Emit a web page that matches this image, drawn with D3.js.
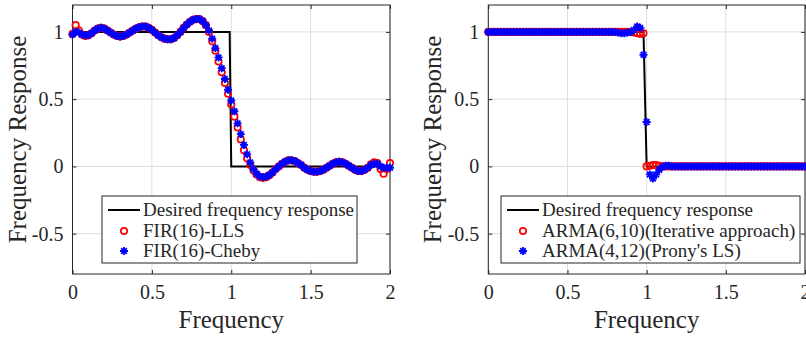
<!DOCTYPE html>
<html>
<head>
  <meta charset="utf-8">
  <title>Frequency response comparison</title>
  <script src="https://cdn.jsdelivr.net/npm/d3@7/dist/d3.min.js"></script>
  <style>
    body { margin: 0; background: #fff; }
    svg text { font-family: 'Liberation Serif', 'Times New Roman', serif; fill: #262626; }
  </style>
</head>
<body>
<svg id="chart" width="806" height="337"></svg>
<script>
// frequency grid (normalised, 0..2) the responses were sampled on
var freq = d3.range(101).map(i => i * 0.02);

var xTicks = [0, 0.5, 1, 1.5, 2];
var xTickLabels = ['0', '0.5', '1', '1.5', '2'];
var yTicks = [-0.5, 0, 0.5, 1];
var yTickLabels = ['-0.5', '0', '0.5', '1'];

// left panel: ideal lowpass and two FIR(16) designs
var desiredFreqL = [0, 0.99, 1, 2];
var desiredL = [1, 1, 0, 0];
var firLLS = [
  0.985, 1.05, 1.01, 0.98, 0.97, 0.975, 0.99, 1.01, 1.025, 1.03,
  1.025, 1.01, 0.995, 0.98, 0.97, 0.965, 0.97, 0.98, 0.995, 1.01,
  1.025, 1.035, 1.04, 1.04, 1.03, 1.015, 0.995, 0.975, 0.96, 0.95,
  0.945, 0.945, 0.955, 0.975, 1.0, 1.03, 1.055, 1.075, 1.09, 1.095,
  1.095, 1.08, 1.05, 1.0, 0.93, 0.86, 0.78, 0.70, 0.62, 0.54,
  0.46, 0.37, 0.29, 0.20, 0.12, 0.06, 0.01, -0.03, -0.06, -0.08,
  -0.085, -0.08, -0.065, -0.045, -0.02, 0.0, 0.02, 0.035, 0.045, 0.045,
  0.04, 0.025, 0.01, -0.01, -0.025, -0.035, -0.04, -0.04, -0.035, -0.025,
  -0.01, 0.005, 0.02, 0.03, 0.035, 0.03, 0.02, 0.005, -0.01, -0.025,
  -0.035, -0.035, -0.025, -0.01, 0.015, 0.03, 0.025, -0.02, -0.055, -0.02,
  0.025
];
var firCheby = [
  0.98, 1.0, 0.995, 0.98, 0.975, 0.975, 0.99, 1.01, 1.025, 1.03,
  1.025, 1.01, 0.995, 0.98, 0.97, 0.965, 0.97, 0.98, 0.995, 1.01,
  1.025, 1.035, 1.04, 1.04, 1.03, 1.015, 0.995, 0.975, 0.96, 0.95,
  0.945, 0.945, 0.955, 0.975, 1.0, 1.03, 1.055, 1.075, 1.09, 1.095,
  1.095, 1.08, 1.05, 1.01, 0.95, 0.88, 0.81, 0.73, 0.65, 0.57,
  0.49, 0.41, 0.32, 0.24, 0.16, 0.09, 0.03, -0.02, -0.055, -0.075,
  -0.08, -0.075, -0.065, -0.045, -0.02, 0.0, 0.02, 0.035, 0.045, 0.045,
  0.04, 0.025, 0.01, -0.01, -0.025, -0.035, -0.04, -0.04, -0.035, -0.025,
  -0.01, 0.005, 0.02, 0.03, 0.035, 0.03, 0.02, 0.005, -0.01, -0.025,
  -0.035, -0.035, -0.025, -0.01, 0.01, 0.02, 0.02, 0.0, -0.01, -0.01,
  -0.01
];

// right panel: ideal lowpass and two ARMA designs
var desiredFreqR = [0, 0.98, 1, 2];
var desiredR = [1, 1, 0, 0];
var armaIter = [
  1, 1, 1, 1, 1, 1, 1, 1, 1, 1,
  1, 1, 1, 1, 1, 1, 1, 1, 1, 1,
  1, 1, 1, 1, 1, 1, 1, 1, 1, 1,
  1, 1, 1, 1, 1, 1, 1, 1, 1, 1,
  1, 1, 1, 1, 1, 1, 0.995, 0.99, 0.985, 0.99,
  0.0, 0.005, 0.01, 0.01, 0.005, 0, 0, 0, 0, 0,
  0, 0, 0, 0, 0, 0, 0, 0, 0, 0,
  0, 0, 0, 0, 0, 0, 0, 0, 0, 0,
  0, 0, 0, 0, 0, 0, 0, 0, 0, 0,
  0, 0, 0, 0, 0, 0, 0, 0, 0, 0,
  0
];
var armaProny = [
  1, 1, 1, 1, 1, 1, 1, 1, 1, 1,
  1, 1, 1, 1, 1, 1, 1, 1, 1, 1,
  1, 1, 1, 1, 1, 1, 1, 1, 1, 1,
  1, 1, 1, 1, 1, 1, 1, 1, 1, 1,
  1, 0.995, 0.99, 0.99, 0.995, 1.0, 1.015, 1.04, 1.03, 0.83,
  0.33, -0.06, -0.09, -0.06, -0.025, -0.005, 0.005, 0.005, 0, 0,
  0, 0, 0, 0, 0, 0, 0, 0, 0, 0,
  0, 0, 0, 0, 0, 0, 0, 0, 0, 0,
  0, 0, 0, 0, 0, 0, 0, 0, 0, 0,
  0, 0, 0, 0, 0, 0, 0, 0, 0, 0,
  0
];

var svg = d3.select('#chart');
var top_ = 5, bottom = 274;

function star(sel, r) {
  var d = 'M' + (-r) + ',0H' + r + 'M0,' + (-r) + 'V' + r +
    'M' + (-r * 0.7) + ',' + (-r * 0.7) + 'L' + (r * 0.7) + ',' + (r * 0.7) +
    'M' + (-r * 0.7) + ',' + (r * 0.7) + 'L' + (r * 0.7) + ',' + (-r * 0.7);
  sel.attr('d', d).attr('fill', 'none').attr('stroke', '#0000ff').attr('stroke-width', 1.8);
}

function panel(p) {
  var x = d3.scaleLinear().domain([0, 2]).range([p.left, p.right]);
  var y = d3.scaleLinear().domain([-0.8, 1.2]).range([bottom, top_]);
  var g = svg.append('g');

  // grid
  g.selectAll('.gx').data(xTicks).enter().append('line')
    .attr('x1', d => x(d)).attr('x2', d => x(d))
    .attr('y1', top_).attr('y2', bottom)
    .attr('stroke', '#dedede').attr('stroke-width', 1);
  g.selectAll('.gy').data(yTicks).enter().append('line')
    .attr('x1', p.left).attr('x2', p.right)
    .attr('y1', d => y(d)).attr('y2', d => y(d))
    .attr('stroke', '#dedede').attr('stroke-width', 1);

  // axes with inward ticks on all four sides
  var ax = [
    g.append('g').attr('transform', 'translate(0,' + bottom + ')')
      .call(d3.axisBottom(x).tickValues(xTicks).tickSize(-4).tickPadding(11)
        .tickFormat((d, i) => xTickLabels[i])),
    g.append('g').attr('transform', 'translate(0,' + top_ + ')')
      .call(d3.axisTop(x).tickValues(xTicks).tickSize(-4).tickFormat('')),
    g.append('g').attr('transform', 'translate(' + p.left + ',0)')
      .call(d3.axisLeft(y).tickValues(yTicks).tickSize(-4).tickPadding(9)
        .tickFormat((d, i) => yTickLabels[i])),
    g.append('g').attr('transform', 'translate(' + p.right + ',0)')
      .call(d3.axisRight(y).tickValues(yTicks).tickSize(-4).tickFormat(''))
  ];
  ax.forEach(a => {
    a.select('.domain').remove();
    a.selectAll('line').attr('stroke', '#262626');
    a.selectAll('text').attr('font-size', 20).attr('fill', '#262626')
      .style('font-family', "'Liberation Serif', 'Times New Roman', serif");
  });

  g.append('rect')
    .attr('x', p.left).attr('y', top_)
    .attr('width', p.right - p.left).attr('height', bottom - top_)
    .attr('fill', 'none').attr('stroke', '#262626').attr('stroke-width', 1);

  // desired response
  var line = d3.line().x(d => x(d[0])).y(d => y(d[1]));
  g.append('path')
    .datum(d3.zip(p.desiredFreq, p.desired))
    .attr('fill', 'none')
    .attr('stroke', '#000')
    .attr('stroke-width', 2)
    .attr('d', line);

  // red circles
  g.selectAll('.circ').data(d3.zip(freq, p.red)).enter().append('circle')
    .attr('cx', d => x(d[0])).attr('cy', d => y(d[1])).attr('r', 3.2)
    .attr('fill', 'none').attr('stroke', '#ff0000').attr('stroke-width', 1.7);

  // blue asterisks
  g.selectAll('.star').data(d3.zip(freq, p.blue)).enter().append('path')
    .attr('transform', d => 'translate(' + x(d[0]) + ',' + y(d[1]) + ')')
    .call(star, 4);

  // axis labels
  g.append('text')
    .attr('x', (p.left + p.right) / 2).attr('y', 328)
    .attr('text-anchor', 'middle').attr('font-size', 25)
    .text('Frequency');
  g.append('text')
    .attr('transform', 'translate(' + (p.left - 47) + ',' + ((top_ + bottom) / 2) + ') rotate(-90)')
    .attr('text-anchor', 'middle').attr('font-size', 25)
    .text('Frequency Response');

  // legend
  var lg = g.append('g');
  lg.append('rect')
    .attr('x', p.legX).attr('y', 196)
    .attr('width', p.legW).attr('height', 67)
    .attr('fill', '#fff').attr('stroke', '#262626').attr('stroke-width', 1);
  var rows = [210, 231, 251];
  lg.append('line')
    .attr('x1', p.legX + 6).attr('x2', p.legX + 38)
    .attr('y1', rows[0]).attr('y2', rows[0])
    .attr('stroke', '#000').attr('stroke-width', 2);
  lg.append('circle')
    .attr('cx', p.legX + 22).attr('cy', rows[1]).attr('r', 3.2)
    .attr('fill', 'none').attr('stroke', '#ff0000').attr('stroke-width', 1.7);
  lg.append('path')
    .attr('transform', 'translate(' + (p.legX + 22) + ',' + rows[2] + ')')
    .call(star, 4);
  lg.selectAll('.lt').data(p.names).enter().append('text')
    .attr('x', p.legX + 41).attr('y', (d, i) => rows[i] + 6)
    .attr('font-size', 19).attr('fill', '#000')
    .text(d => d);
}

panel({
  left: 72.5, right: 390,
  desiredFreq: desiredFreqL, desired: desiredL,
  red: firLLS, blue: firCheby,
  legX: 102, legW: 255,
  names: ['Desired frequency response', 'FIR(16)-LLS', 'FIR(16)-Cheby']
});

panel({
  left: 488.3, right: 805,
  desiredFreq: desiredFreqR, desired: desiredR,
  red: armaIter, blue: armaProny,
  legX: 501, legW: 299,
  names: ['Desired frequency response', 'ARMA(6,10)(Iterative approach)', "ARMA(4,12)(Prony's LS)"]
});
</script>
</body>
</html>
